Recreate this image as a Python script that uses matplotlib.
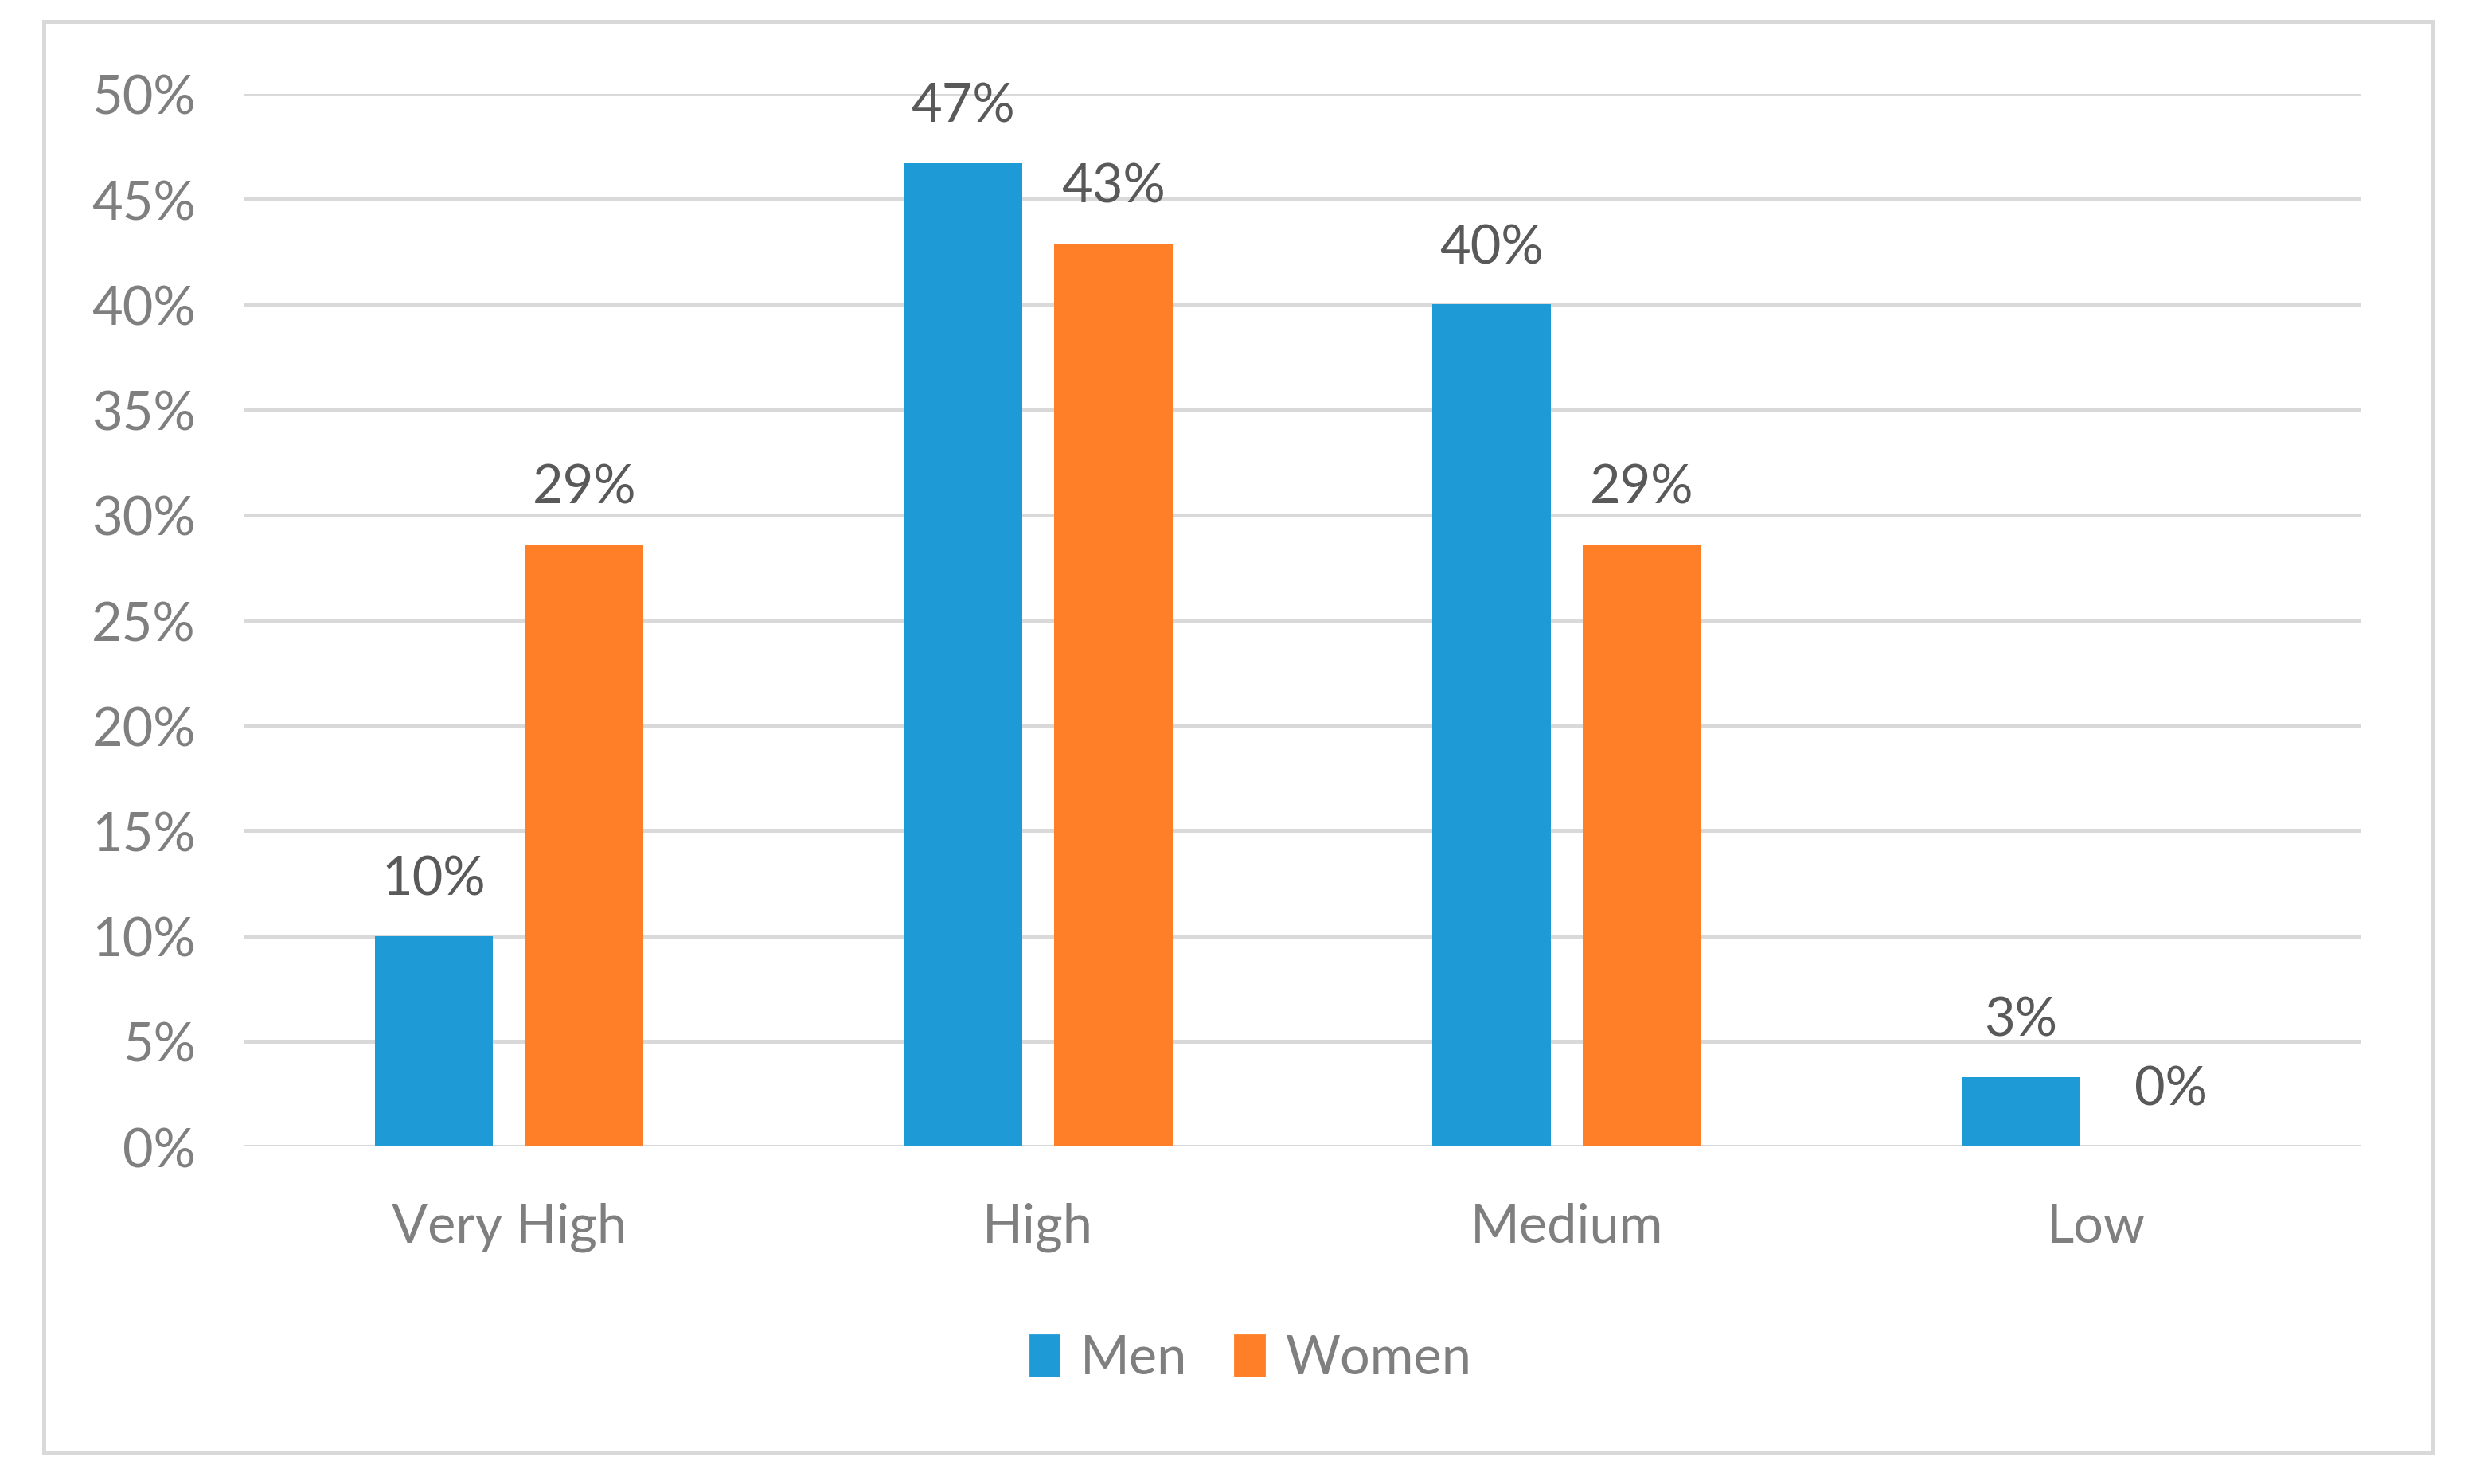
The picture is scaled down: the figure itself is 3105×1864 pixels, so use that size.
import matplotlib
matplotlib.use("Agg")
import matplotlib.pyplot as plt
import matplotlib.patches as mpatches
import numpy as np

categories = ["Very High", "High", "Medium", "Low"]
men = [10.0, 46.7, 40.0, 3.3]
women = [28.6, 42.9, 28.6, 0.0]
series_names = ["Men", "Women"]
yticks = [0, 5, 10, 15, 20, 25, 30, 35, 40, 45, 50]

BLUE = "#1e9bd7"
ORANGE = "#fe7f27"
GRID = "#d9d9d9"
TICK = "#7f7f7f"
LABEL = "#595959"

plt.rcParams['font.family'] = ['Lato', 'DejaVu Sans']

fig = plt.figure(figsize=(15.525, 9.325), dpi=200)
ax = fig.add_axes([0.0989, 0.2273, 0.9549 - 0.0989, 0.9362 - 0.2273])

x = np.arange(len(categories))
w = 0.224
off = 0.142
b1 = ax.bar(x - off, men, w, color=BLUE, zorder=3, label=series_names[0])
b2 = ax.bar(x + off, women, w, color=ORANGE, zorder=3, label=series_names[1])

for bars, vals in ((b1, men), (b2, women)):
    for rect, v in zip(bars, vals):
        ax.annotate(f"{v:.0f}%", (rect.get_x() + rect.get_width() / 2, v),
                    xytext=(0, 14.5), textcoords="offset points",
                    ha="center", va="bottom", fontsize=24, color=LABEL)

ax.set_xlim(-0.5, 3.5)
ax.set_ylim(0, 50)
ax.set_yticks(yticks)
ax.set_yticklabels([f"{t}%" for t in yticks])
ax.set_xticks(x)
ax.set_xticklabels(categories)
ax.tick_params(axis="both", length=0, labelsize=24, labelcolor=TICK)
ax.tick_params(axis="y", pad=22)
ax.tick_params(axis="x", pad=25)
ax.grid(axis="y", color=GRID, linewidth=1.8, zorder=0)
for s in ax.spines.values():
    s.set_visible(False)

handles = [mpatches.Patch(color=BLUE), mpatches.Patch(color=ORANGE)]
fig.legend(handles, series_names, loc="center", bbox_to_anchor=(0.506, 0.0845),
           ncol=2, frameon=False, fontsize=24, labelcolor=TICK,
           handlelength=0.55, handleheight=0.8, handletextpad=0.4, columnspacing=0.9)

border = mpatches.Rectangle((0.0177, 0.0209), 0.9839 - 0.0177, 0.985 - 0.0209,
                            transform=fig.transFigure, fill=False,
                            edgecolor=GRID, linewidth=1.8)
fig.patches.append(border)

fig.savefig("out.png", dpi=200, facecolor="white")
